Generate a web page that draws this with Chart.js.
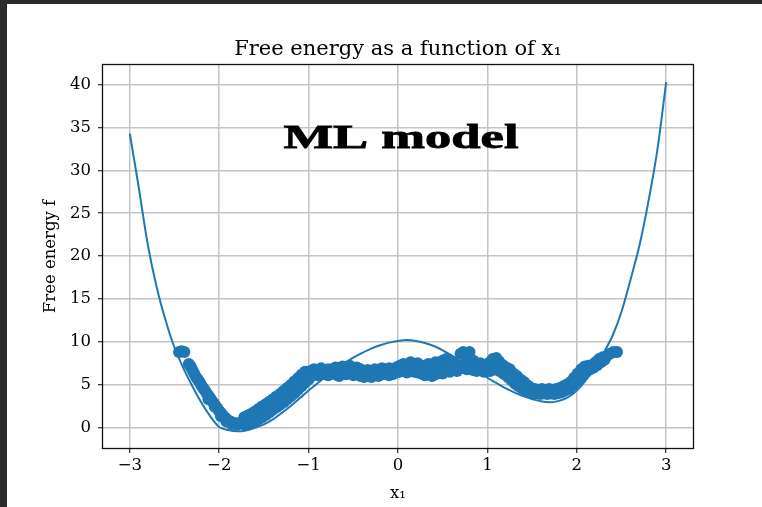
<!DOCTYPE html>
<html>
<head>
<meta charset="utf-8">
<script src="https://cdn.jsdelivr.net/npm/chart.js@4.4.1/dist/chart.umd.min.js"></script>
<style>
  body { margin: 0; background: #2b2b2b; }
  #wrap { position: absolute; left: 7px; top: 4px; width: 755px; height: 503px; background: #fff; }
</style>
</head>
<body>
<div id="wrap"><canvas id="freeChart" width="755" height="503"></canvas></div>
<script>
// fitted curve f(x1)
const curveX = [-3.0, -2.9, -2.8, -2.7, -2.6, -2.5, -2.4, -2.3, -2.2, -2.1, -2.0, -1.9, -1.8, -1.7, -1.6, -1.5, -1.4, -1.3, -1.2, -1.1,
  -1.0, -0.9, -0.8, -0.7, -0.6, -0.5, -0.4, -0.3, -0.2, -0.1, 0.0, 0.1, 0.2, 0.3, 0.4, 0.5, 0.6, 0.7, 0.8, 0.9,
  1.0, 1.1, 1.2, 1.3, 1.4, 1.5, 1.6, 1.7, 1.8, 1.9, 2.0, 2.1, 2.2, 2.3, 2.4, 2.5, 2.6, 2.7, 2.8, 2.9, 3.0];
const curveF = [34.3, 28.0, 21.4, 16.4, 12.5, 9.3, 6.9, 4.8, 2.9, 1.3, 0.05, -0.3, -0.45, -0.35, -0.05, 0.35, 0.95, 1.7, 2.5, 3.4,
  4.3, 5.15, 6.0, 6.8, 7.5, 8.15, 8.7, 9.2, 9.6, 9.9, 10.1, 10.2, 10.1, 9.85, 9.5, 9.0, 8.4, 7.75, 7.1, 6.45,
  5.8, 5.2, 4.6, 4.1, 3.65, 3.3, 3.05, 2.95, 3.1, 3.5, 4.3, 5.5, 7.0, 8.7, 10.7, 13.5, 17.2, 21.2, 26.3, 32.3, 40.3];

// sampled points
const sampleX = [
  -2.45, -2.42, -2.39, -2.34, -2.32, -2.30, -2.28, -2.26, -2.24, -2.22, -2.20, -2.18, -2.16, -2.14, -2.12, -2.10, -2.08,
  -2.06, -2.04, -2.02, -2.00, -1.98, -1.96, -1.94, -1.92, -1.90, -1.88, -1.86, -1.84, -1.82, -1.80, -1.78, -1.76,
  -2.12, -2.05, -1.98, -1.92, -1.86, -1.80,
  -1.74, -1.70, -1.66, -1.62, -1.58, -1.54, -1.50, -1.46, -1.42, -1.38, -1.34, -1.30, -1.26, -1.22, -1.18, -1.14, -1.10, -1.06, -1.02,
  -1.72, -1.68, -1.64, -1.60, -1.56, -1.52, -1.48, -1.44, -1.40, -1.36, -1.32, -1.28, -1.24, -1.20, -1.16, -1.12, -1.08, -1.04,
  -1.72, -1.68, -1.64, -1.60, -1.56, -1.52, -1.48, -1.44, -1.40, -1.36, -1.32, -1.28, -1.24, -1.20, -1.16, -1.12, -1.08, -1.04, -1.00,
  -0.98, -0.94, -0.90, -0.86, -0.82, -0.78, -0.74, -0.70, -0.66, -0.62, -0.58, -0.54, -0.50, -0.46, -0.42, -0.38, -0.34,
  -0.30, -0.26, -0.22, -0.18, -0.14, -0.10, -0.06, -0.02, 0.02, 0.06, 0.10, 0.14, 0.18, 0.22, 0.26, 0.30, 0.34,
  0.38, 0.42, 0.46, 0.50, 0.54, 0.58, 0.62, 0.66, 0.70, 0.73, 0.77, 0.80, 0.84, 0.88, 0.92, 0.96, 1.00,
  -0.98, -0.94, -0.90, -0.86, -0.82, -0.78, -0.74, -0.70, -0.66, -0.62, -0.58, -0.54, -0.50, -0.46, -0.42, -0.38, -0.34,
  -0.30, -0.26, -0.22, -0.18, -0.14, -0.10, -0.06, -0.02, 0.02, 0.06, 0.10, 0.14, 0.18, 0.22, 0.26, 0.30, 0.34,
  0.38, 0.42, 0.46, 0.50, 0.54, 0.58, 0.62, 0.66, 0.70, 0.73, 0.77, 0.80, 0.84, 0.88, 0.92, 0.96, 1.00,
  1.03, 1.06, 1.10, 1.13, 1.17, 1.21, 1.25, 1.29, 1.33, 1.37, 1.41, 1.45, 1.49, 1.53, 1.57, 1.61, 1.65, 1.69, 1.73,
  1.77, 1.81, 1.85, 1.89, 1.93, 1.97, 2.01, 2.05, 2.09, 2.13, 2.17, 2.21, 2.25, 2.29, 2.33, 2.37, 2.41, 2.45,
  1.03, 1.07, 1.11, 1.15, 1.19, 1.23, 1.27, 1.31, 1.35, 1.39, 1.43, 1.47, 1.51, 1.55, 1.59, 1.63, 1.67,
  1.71, 1.75, 1.79, 1.83, 1.87, 1.91, 1.95, 1.99, 2.03, 2.07, 2.11, 2.15, 2.19, 2.23, 2.27, 2.31];
const sampleF = [
  8.8, 8.9, 8.8, 7.4, 7.1, 6.7, 6.3, 5.9, 5.6, 5.3, 4.9, 4.6, 4.3, 4.0, 3.7, 3.4, 3.1,
  2.8, 2.5, 2.2, 1.9, 1.7, 1.4, 1.2, 1.0, 0.8, 0.7, 0.6, 0.5, 0.5, 0.4, 0.5, 0.5,
  3.3, 2.4, 1.3, 0.7, 0.4, 0.3,
  0.6, 0.75, 0.95, 1.15, 1.45, 1.75, 2.0, 2.3, 2.6, 2.9, 3.2, 3.5, 3.85, 4.2, 4.55, 4.95, 5.35, 5.75, 6.1,
  1.2, 1.4, 1.6, 1.85, 2.15, 2.45, 2.7, 3.0, 3.3, 3.6, 3.9, 4.25, 4.6, 4.95, 5.35, 5.75, 6.15, 6.5,
  0.35, 0.45, 0.55, 0.7, 0.95, 1.2, 1.45, 1.75, 2.05, 2.35, 2.65, 2.95, 3.3, 3.65, 4.0, 4.4, 4.8, 5.2, 5.6,
  6.6, 6.8, 6.6, 6.9, 6.7, 6.8, 6.6, 7.0, 6.9, 7.1, 7.0, 7.2, 6.9, 7.0, 6.8, 6.6, 6.7,
  6.5, 6.8, 6.6, 6.9, 6.7, 6.9, 6.6, 7.0, 7.2, 7.4, 7.1, 7.6, 7.3, 7.5, 7.0, 7.2, 7.4,
  7.1, 7.6, 7.3, 7.8, 8.0, 7.4, 7.6, 7.2, 8.6, 8.8, 8.0, 8.8, 7.8, 7.3, 7.5, 7.2, 7.4,
  6.0, 6.2, 6.1, 6.3, 6.2, 6.1, 6.3, 6.2, 6.0, 6.3, 6.2, 6.4, 6.1, 6.3, 6.0, 5.9, 6.0,
  5.9, 6.1, 6.0, 6.2, 6.3, 6.1, 6.2, 6.4, 6.5, 6.6, 6.4, 6.7, 6.5, 6.4, 6.3, 6.1, 6.3,
  6.0, 6.2, 6.4, 6.3, 6.6, 6.5, 6.8, 6.6, 6.9, 7.1, 6.8, 7.0, 6.7, 6.6, 6.8, 6.5, 6.6,
  7.6, 8.0, 8.1, 7.7, 7.3, 7.0, 6.8, 6.3, 6.0, 5.6, 5.3, 4.9, 4.6, 4.5, 4.4, 4.5, 4.4, 4.5, 4.4,
  4.5, 4.6, 4.8, 5.0, 5.3, 5.8, 6.3, 6.8, 7.1, 7.2, 7.3, 7.6, 8.0, 8.2, 8.3, 8.6, 8.8, 8.8,
  6.6, 6.8, 6.7, 6.5, 6.2, 5.9, 5.5, 5.1, 4.8, 4.5, 4.3, 4.1, 4.0, 3.95, 3.9, 3.95, 3.9,
  3.95, 3.9, 4.0, 4.1, 4.3, 4.5, 4.9, 5.3, 5.7, 6.1, 6.5, 6.8, 7.0, 7.3, 7.6, 7.9];

const xTicks = [-3, -2, -1, 0, 1, 2, 3];
const yTicks = [0, 5, 10, 15, 20, 25, 30, 35, 40];

const blue = "#1f77b4";
const serif = "'DejaVu Serif', serif";
const gridColor = "#c4c4c4";

const minus = (v) => (v < 0 ? "\u2212" + Math.abs(v) : String(v));

const decorations = {
  id: "decorations",
  afterDraw(chart) {
    const ctx = chart.ctx;
    const a = chart.chartArea;
    ctx.save();
    // box round the axes
    ctx.strokeStyle = "#111";
    ctx.lineWidth = 1.3;
    ctx.strokeRect(Math.round(a.left) - 0.5, Math.round(a.top) - 0.5, Math.round(a.right - a.left) + 1, Math.round(a.bottom - a.top) + 1);

    ctx.fillStyle = "#000";
    ctx.textAlign = "center";
    ctx.textBaseline = "alphabetic";
    ctx.font = "21px " + serif;
    ctx.fillText("Free energy as a function of x\u2081", (a.left + a.right) / 2, 51);

    ctx.font = "16.5px " + serif;
    ctx.fillText("x\u2081", (a.left + a.right) / 2, 494);

    ctx.save();
    ctx.translate(44, (a.top + a.bottom) / 2);
    ctx.rotate(-Math.PI / 2);
    ctx.textBaseline = "middle";
    ctx.fillText("Free energy f", 0, 0);
    ctx.restore();

    // big label
    ctx.font = "bold 34px 'Liberation Serif', serif";
    const w = ctx.measureText("ML model").width;
    ctx.translate(394, 144);
    ctx.scale(235 / w, 1);
    ctx.strokeStyle = "#000";
    ctx.lineWidth = 0.8;
    ctx.fillText("ML model", 0, 0);
    ctx.strokeText("ML model", 0, 0);
    ctx.restore();
  }
};

new Chart(document.getElementById("freeChart"), {
  type: "scatter",
  data: {
    datasets: [
      {
        label: "fit",
        data: curveX.map((x, i) => ({ x: x, y: curveF[i] })),
        showLine: true,
        borderColor: blue,
        borderWidth: 2,
        pointRadius: 0,
        tension: 0.3,
        order: 0,
      },
      {
        label: "samples",
        data: sampleX.map((x, i) => ({ x: x, y: sampleF[i] })),
        backgroundColor: blue,
        borderWidth: 0,
        pointRadius: 6,
        order: 1,
      },
    ],
  },
  options: {
    responsive: false,
    animation: false,
    layout: { padding: { left: 0, right: 69, top: 61, bottom: 0 } },
    plugins: {
      legend: { display: false },
      tooltip: { enabled: false },
    },
    scales: {
      x: {
        type: "linear",
        min: -3.3,
        max: 3.3,
        afterFit(s) { s.height = 59; },
        afterBuildTicks(s) { s.ticks = xTicks.map((v) => ({ value: v })); },
        border: { display: false },
        grid: { color: gridColor, lineWidth: 1.5, tickColor: "#000", tickWidth: 1, tickLength: 5 },
        ticks: {
          color: "#000",
          padding: 3,
          maxRotation: 0,
          autoSkip: false,
          font: { family: serif, size: 16.5 },
          callback: minus,
        },
      },
      y: {
        type: "linear",
        min: -2.4,
        max: 42.3,
        afterFit(s) { s.width = 96; },
        afterBuildTicks(s) { s.ticks = yTicks.map((v) => ({ value: v })); },
        border: { display: false },
        grid: { color: gridColor, lineWidth: 1.5, tickColor: "#000", tickWidth: 1, tickLength: 5 },
        ticks: {
          color: "#000",
          padding: 7,
          autoSkip: false,
          font: { family: serif, size: 16.5 },
          callback: minus,
        },
      },
    },
  },
  plugins: [decorations],
});
</script>
</body>
</html>
